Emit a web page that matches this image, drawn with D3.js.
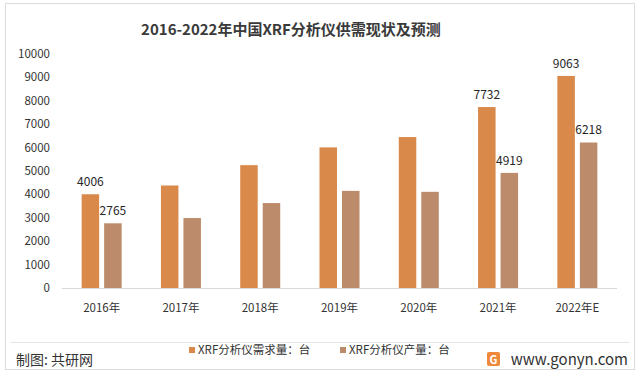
<!DOCTYPE html>
<html>
<head>
  <meta charset="utf-8">
  <script src="https://d3js.org/d3.v7.min.js"></script>
  <style>
    body { margin: 0; background: #fff; }
    text { font-family: "Noto Sans CJK SC", "Noto Sans", sans-serif; }
  </style>
</head>
<body>
<div id="chart"></div>
<script>
  var years = ["2016年", "2017年", "2018年", "2019年", "2020年", "2021年", "2022年E"];
  var demand = [4006, 4380, 5250, 6010, 6450, 7732, 9063];
  var supply = [2765, 2990, 3630, 4150, 4110, 4919, 6218];
  // only these years carry a number label in the picture
  var labelled = [true, false, false, false, false, true, true];
  var seriesNames = ["XRF分析仪需求量：台", "XRF分析仪产量：台"];
  var yTicks = [0, 1000, 2000, 3000, 4000, 5000, 6000, 7000, 8000, 9000, 10000];
  var title = "2016-2022年中国XRF分析仪供需现状及预测";

  var colors = ["#d98a4a", "#bc8b6b"];

  var W = 640, H = 376;
  var svg = d3.select("#chart").append("svg")
    .attr("width", W)
    .attr("height", H);

  // card frame
  svg.append("rect")
    .attr("x", 5.5).attr("y", 3.5)
    .attr("width", 629).attr("height", 366)
    .attr("fill", "#fff")
    .attr("stroke", "#dcdcdc");

  svg.append("text")
    .attr("x", 291)
    .attr("y", 35)
    .attr("text-anchor", "middle")
    .attr("font-size", 15)
    .attr("font-weight", "bold")
    .attr("fill", "#3a3a3a")
    .text(title);

  var x = d3.scaleBand()
    .domain(years)
    .range([62, 617])
    .paddingInner(0)
    .paddingOuter(0);

  var y = d3.scaleLinear()
    .domain([0, 10000])
    .range([288, 54]);

  var barW = 17.5, gap = 5;

  // y axis labels
  svg.append("g")
    .selectAll("text")
    .data(yTicks)
    .enter().append("text")
    .attr("x", 50)
    .attr("y", d => y(d) + 4)
    .attr("text-anchor", "end")
    .attr("font-size", 11.5)
    .attr("fill", "#333")
    .text(d => d);

  // baseline
  svg.append("line")
    .attr("x1", 62).attr("x2", 617)
    .attr("y1", y(0) + 0.5).attr("y2", y(0) + 0.5)
    .attr("stroke", "#d9d9d9");

  // x labels
  svg.append("g")
    .selectAll("text")
    .data(years)
    .enter().append("text")
    .attr("x", d => x(d) + x.bandwidth() / 2)
    .attr("y", 312)
    .attr("text-anchor", "middle")
    .attr("font-size", 11.5)
    .attr("fill", "#333")
    .text(d => d);

  var series = [demand, supply];
  series.forEach(function(vals, s) {
    var off = s === 0 ? -(barW + gap / 2) : gap / 2;
    svg.append("g")
      .selectAll("rect")
      .data(vals)
      .enter().append("rect")
      .attr("x", (d, i) => x(years[i]) + x.bandwidth() / 2 + off)
      .attr("y", d => y(d))
      .attr("width", barW)
      .attr("height", d => y(0) - y(d))
      .attr("fill", colors[s]);

    svg.append("g")
      .selectAll("text")
      .data(vals.map((v, i) => ({v: v, i: i})).filter(d => labelled[d.i]))
      .enter().append("text")
      .attr("x", d => x(years[d.i]) + x.bandwidth() / 2 + off + barW / 2)
      .attr("y", d => y(d.v) - 8)
      .attr("text-anchor", "middle")
      .attr("font-size", 12)
      .attr("fill", "#262626")
      .text(d => d.v);
  });

  // footer separator
  svg.append("line")
    .attr("x1", 10).attr("x2", 630)
    .attr("y1", 342.5).attr("y2", 342.5)
    .attr("stroke", "#e6e6e6");

  // legend
  var legendX = [189, 340];
  seriesNames.forEach(function(name, s) {
    svg.append("rect")
      .attr("x", legendX[s]).attr("y", 347)
      .attr("width", 6).attr("height", 6)
      .attr("fill", colors[s]);
    svg.append("text")
      .attr("x", legendX[s] + 9)
      .attr("y", 354)
      .attr("font-size", 11.5)
      .attr("fill", "#333")
      .text(name);
  });

  svg.append("text")
    .attr("x", 16).attr("y", 365)
    .attr("font-size", 14)
    .attr("fill", "#333")
    .text("制图: 共研网");

  // site logo
  var logo = svg.append("g").attr("transform", "translate(487,352)");
  logo.append("rect").attr("x", 0).attr("y", 0).attr("width", 13).attr("height", 14)
    .attr("rx", 2).attr("fill", "#f0883a");
  logo.append("text").attr("x", 6.5).attr("y", 11.5).attr("text-anchor", "middle")
    .attr("font-size", 11).attr("font-weight", "bold").attr("fill", "#fff").text("G");

  svg.append("text")
    .attr("x", 628).attr("y", 365)
    .attr("text-anchor", "end")
    .attr("font-family", "Liberation Sans, Arial, sans-serif")
    .attr("font-size", 15)
    .attr("fill", "#333")
    .text("www.gonyn.com");
</script>
</body>
</html>
